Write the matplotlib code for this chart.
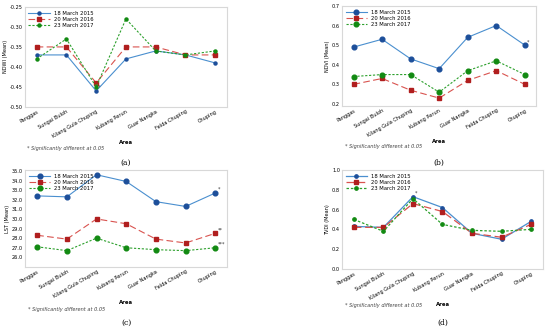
import matplotlib
matplotlib.use('Agg')
import matplotlib.pyplot as plt

areas = ['Panggas', 'Sungai Buloh', 'Kilang Gula Chuping', 'Kubang Perun',
         'Guar Nangka', 'Felda Chuping', 'Chuping']
series = ['18 March 2015', '20 March 2016', '23 March 2017']

ndwi_2015 = [-0.37, -0.37, -0.46, -0.38, -0.36, -0.37, -0.39]
ndwi_2016 = [-0.35, -0.35, -0.44, -0.35, -0.35, -0.37, -0.37]
ndwi_2017 = [-0.38, -0.33, -0.45, -0.28, -0.36, -0.37, -0.36]

ndvi_2015 = [0.49, 0.53, 0.43, 0.38, 0.54, 0.60, 0.50]
ndvi_2016 = [0.30, 0.33, 0.27, 0.23, 0.32, 0.37, 0.30]
ndvi_2017 = [0.34, 0.35, 0.35, 0.26, 0.37, 0.42, 0.35]

lst_2015 = [32.4, 32.3, 34.6, 33.9, 31.8, 31.3, 32.7]
lst_2016 = [28.3, 27.9, 30.0, 29.5, 27.9, 27.5, 28.5]
lst_2017 = [27.1, 26.7, 28.0, 27.0, 26.8, 26.7, 27.0]

tvdi_2015 = [0.43, 0.42, 0.73, 0.62, 0.36, 0.30, 0.48]
tvdi_2016 = [0.42, 0.42, 0.66, 0.58, 0.36, 0.32, 0.45]
tvdi_2017 = [0.50, 0.38, 0.71, 0.45, 0.39, 0.38, 0.40]

# significance marks: (series index, area index, text)
sig_a = [(0, 2, '*')]
sig_b = [(0, 6, '*')]
sig_c = [(0, 6, '*'), (1, 6, '**'), (2, 6, '***')]
sig_d = [(0, 2, '*')]

styles = [
    dict(color='#4a8fcf', ls='-', marker='o', mfc='#1d4f9a', mec='#1d4f9a'),
    dict(color='#d9534f', ls=(0, (6, 3)), marker='s', mfc='#b01e1e', mec='#b01e1e'),
    dict(color='#2ca02c', ls=(0, (2, 1.5)), marker='o', mfc='#128a12', mec='#128a12'),
]

fig = plt.figure(figsize=(5.5, 3.3), dpi=100)


def panel(rect, data, sig, ylabel, ylim, yticks, fmt, label, lab_y, note_y, msize, lw):
    ax = fig.add_axes(rect)
    x = range(len(areas))
    for vals, name, st in zip(data, series, styles):
        ax.plot(x, vals, label=name, lw=lw, ms=msize, **st)
    for si, ai, txt in sig:
        ax.annotate(txt, (ai, data[si][ai]), xytext=(1.5, 1.5),
                    textcoords='offset points', fontsize=3.5, color='#333333')
    ax.set_xlim(-0.4, len(areas) - 0.6)
    ax.set_ylim(*ylim)
    ax.set_yticks(yticks)
    ax.set_yticklabels([fmt.format(v) for v in yticks])
    ax.set_xticks(list(x))
    ax.set_xticklabels(areas, rotation=30, ha='right', rotation_mode='anchor')
    ax.tick_params(labelsize=3.6, length=0, pad=1.5)
    ax.set_ylabel(ylabel, fontsize=3.6, labelpad=1.5)
    ax.set_xlabel('Area', fontsize=3.8, fontweight='bold', labelpad=1)
    for s in ax.spines.values():
        s.set_color('#d8d8d8')
        s.set_linewidth(0.8)
    ax.legend(loc='upper left', fontsize=3.8, frameon=False, handlelength=4,
              borderaxespad=0.3, labelspacing=0.25)
    fig.text(rect[0] + 0.005, note_y, '* Significantly different at 0.05',
             fontsize=3.6, style='italic', color='#444444')
    fig.text(rect[0] + rect[2] / 2, lab_y, label, fontsize=5.5,
             fontfamily='DejaVu Serif', ha='center')
    return ax


panel([0.045, 0.676, 0.368, 0.303], [ndwi_2015, ndwi_2016, ndwi_2017], sig_a,
      'NDWI (Mean)', (-0.50, -0.25), [-0.50, -0.45, -0.40, -0.35, -0.30, -0.25],
      '{:.2f}', '(a)', 0.50, 0.545, 2.2, 0.8)
panel([0.622, 0.679, 0.353, 0.303], [ndvi_2015, ndvi_2016, ndvi_2017], sig_b,
      'NDVI (Mean)', (0.19, 0.70), [0.2, 0.3, 0.4, 0.5, 0.6, 0.7],
      '{:.1f}', '(b)', 0.50, 0.553, 3.4, 0.8)
panel([0.046, 0.191, 0.367, 0.294], [lst_2015, lst_2016, lst_2017], sig_c,
      'LST (Mean)', (25.0, 35.1), [26, 27, 28, 29, 30, 31, 32, 33, 34, 35],
      '{:.1f}', '(c)', 0.015, 0.058, 3.4, 0.8)
panel([0.622, 0.185, 0.365, 0.300], [tvdi_2015, tvdi_2016, tvdi_2017], sig_d,
      'TVDI (Mean)', (0.0, 1.0), [0.0, 0.2, 0.4, 0.6, 0.8, 1.0],
      '{:.1f}', '(d)', 0.015, 0.070, 2.4, 0.9)

fig.savefig('out.png', dpi=100, facecolor='white')
